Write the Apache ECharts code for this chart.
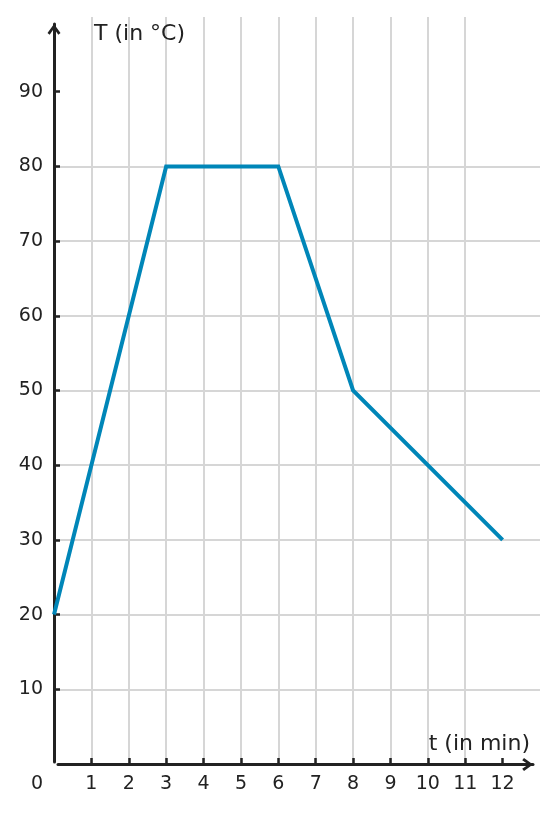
<!DOCTYPE html>
<html>
<head>
<meta charset="utf-8">
<script src="https://cdn.jsdelivr.net/npm/echarts@6/dist/echarts.min.js"></script>
<style>
  html, body { margin: 0; padding: 0; background: #fff; }
  #chart { width: 557px; height: 813px; }
</style>
</head>
<body>
<div id="chart"></div>
<script>
// time in minutes and temperature in °C
var times = [0, 3, 6, 8, 12];
var temps = [20, 80, 80, 50, 30];
var xTickValues = [1, 2, 3, 4, 5, 6, 7, 8, 9, 10, 11, 12];
var xLabelValues = [0, 1, 2, 3, 4, 5, 6, 7, 8, 9, 10, 11, 12];
var yLabelValues = [10, 20, 30, 40, 50, 60, 70, 80, 90];

var ink = '#222';
var gridColor = '#d6d6d6';
var font = 'DejaVu Sans';
// open chevron, apex at the top
var chevron = 'path://M6.5,0 L13,9 L10.8,10.8 L6.5,4.6 L2.2,10.8 L0,9 Z';

var chart = echarts.init(document.getElementById('chart'));

var option = {
    animation: false,
    grid: [
        { left: 54, right: 17, top: 17, bottom: 49 },   // data + grid lines
        { left: 54, right: 17, top: 24, bottom: 51 },   // y axis line
        { left: 58, right: 24, top: 17, bottom: 48.5 }  // x axis line
    ],
    xAxis: [
        {
            gridIndex: 0, type: 'value', min: 0, max: 13, interval: 1,
            axisLine: { show: false },
            axisTick: {
                show: true, inside: true, length: 6, customValues: xTickValues,
                lineStyle: { color: ink, width: 2.5 }
            },
            axisLabel: {
                customValues: xLabelValues, margin: 11,
                color: ink, fontSize: 19, fontFamily: font,
                formatter: function (v) { return v === 0 ? '{z|0}' : String(v); },
                rich: { z: { padding: [0, 34, 0, 0], color: ink, fontSize: 19, fontFamily: font } }
            },
            splitLine: { show: true, showMaxLine: false, lineStyle: { color: gridColor, width: 2 } }
        },
        { gridIndex: 1, type: 'value', min: 0, max: 1, show: false },
        {
            gridIndex: 2, type: 'value', min: 0, max: 1,
            axisLine: {
                show: true, symbol: ['none', chevron], symbolSize: [13, 10.8], symbolOffset: [0, -5.4],
                lineStyle: { color: ink, width: 3 }
            },
            axisTick: { show: false }, axisLabel: { show: false }, splitLine: { show: false }
        }
    ],
    yAxis: [
        {
            gridIndex: 0, type: 'value', min: 0, max: 100, interval: 5,
            axisLine: { show: false },
            axisTick: {
                show: true, inside: true, length: 6, customValues: yLabelValues,
                lineStyle: { color: ink, width: 2.5 }
            },
            axisLabel: {
                customValues: yLabelValues, margin: 11,
                color: ink, fontSize: 19, fontFamily: font
            },
            splitLine: { show: true, showMaxLine: false, lineStyle: { color: gridColor, width: 2 } }
        },
        {
            gridIndex: 1, type: 'value', min: 0, max: 1,
            axisLine: {
                show: true, symbol: ['none', chevron], symbolSize: [13, 10.8], symbolOffset: [0, -5.4],
                lineStyle: { color: ink, width: 3 }
            },
            axisTick: { show: false }, axisLabel: { show: false }, splitLine: { show: false }
        },
        { gridIndex: 2, type: 'value', min: 0, max: 1, show: false }
    ],
    graphic: [
        { type: 'text', z: 100, left: 94, top: 23, style: { text: 'T (in °C)', fill: ink, font: '22px "DejaVu Sans"' } },
        { type: 'text', z: 100, right: 27, top: 733, style: { text: 't (in min)', fill: ink, font: '22px "DejaVu Sans"' } }
    ],
    series: [{
        type: 'line',
        xAxisIndex: 0,
        yAxisIndex: 0,
        data: times.map(function (t, i) { return [t, temps[i]]; }),
        symbol: 'none',
        lineStyle: { color: '#0086b8', width: 4, join: 'miter' },
        z: 5
    }]
};

chart.setOption(option);
</script>
</body>
</html>
